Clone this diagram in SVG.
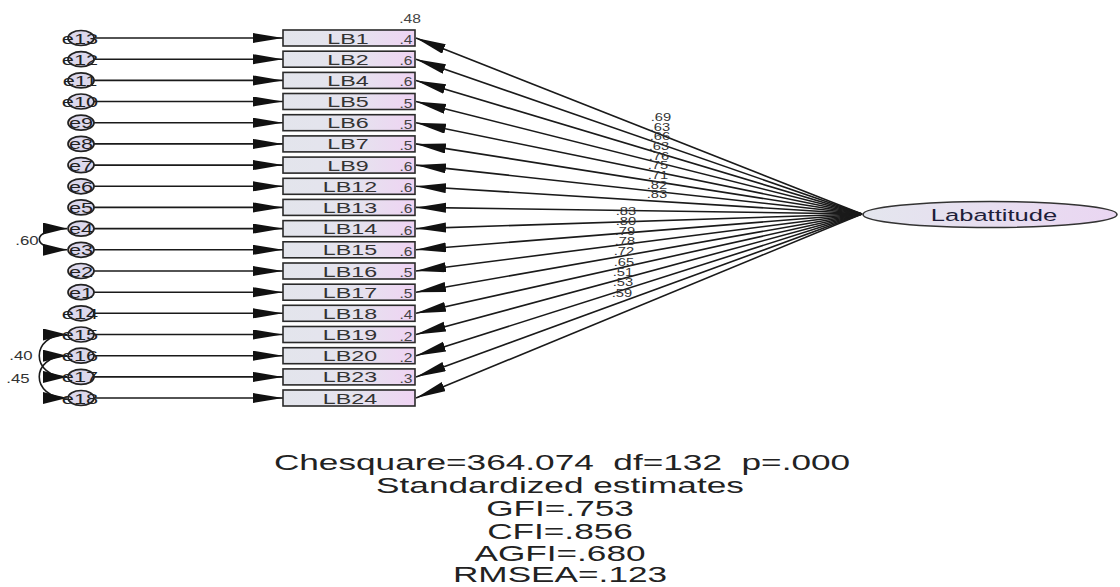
<svg xmlns="http://www.w3.org/2000/svg" width="1120" height="587" viewBox="0 0 1120 587">
  <style>
    text { font-family: "Liberation Sans", Arial, sans-serif; }
    .box { fill: url(#boxFill); stroke: #2a2a2a; stroke-width: 1.6; }
    .err { fill: #dcd8ec; stroke: #222; stroke-width: 1.7; }
    .lb { font-size: 15.5px; fill: #333; text-anchor: middle; }
    .el { font-size: 15px; fill: #222; text-anchor: middle; }
    .r2 { font-size: 12px; fill: #444; text-anchor: middle; }
    .pl { font-size: 10.5px; fill: #333; text-anchor: middle; }
    .cv { font-size: 12px; fill: #333; text-anchor: middle; }
    .fit { font-size: 22px; fill: #222; text-anchor: middle; white-space: pre; }
    .ln { stroke: #1a1a1a; stroke-width: 1.6; fill: none; }
  </style>
  <defs>
    <linearGradient id="boxFill" x1="0" y1="0" x2="1" y2="0">
      <stop offset="0" stop-color="#e3e5ec"/>
      <stop offset="0.55" stop-color="#e5e3ee"/>
      <stop offset="1" stop-color="#efd3f3"/>
    </linearGradient>
    <linearGradient id="latFill" x1="0" y1="0" x2="1" y2="0">
      <stop offset="0" stop-color="#e4e6ee"/>
      <stop offset="1" stop-color="#ead6f2"/>
    </linearGradient>
    <marker id="ah" markerUnits="userSpaceOnUse" markerWidth="32" markerHeight="12" refX="30" refY="5" orient="auto">
      <path d="M0,0 L30,5 L0,10 z" fill="#111"/>
    </marker>
    <marker id="ahc" markerUnits="userSpaceOnUse" markerWidth="26" markerHeight="14" refX="24" refY="6" orient="auto-start-reverse">
      <path d="M0,0 L24,6 L0,12 z" fill="#111"/>
    </marker>
  </defs>

  <!-- connectors: error paths, loadings, covariances -->
  <g id="connectors">
    <g id="error-paths">
      <line class="ln" x1="94" y1="38" x2="283" y2="38" marker-end="url(#ah)"/>
      <line class="ln" x1="94" y1="59.2" x2="283" y2="59.2" marker-end="url(#ah)"/>
      <line class="ln" x1="94" y1="80.4" x2="283" y2="80.4" marker-end="url(#ah)"/>
      <line class="ln" x1="94" y1="101.5" x2="283" y2="101.5" marker-end="url(#ah)"/>
      <line class="ln" x1="94" y1="122.7" x2="283" y2="122.7" marker-end="url(#ah)"/>
      <line class="ln" x1="94" y1="143.9" x2="283" y2="143.9" marker-end="url(#ah)"/>
      <line class="ln" x1="94" y1="165.1" x2="283" y2="165.1" marker-end="url(#ah)"/>
      <line class="ln" x1="94" y1="186.3" x2="283" y2="186.3" marker-end="url(#ah)"/>
      <line class="ln" x1="94" y1="207.4" x2="283" y2="207.4" marker-end="url(#ah)"/>
      <line class="ln" x1="94" y1="228.6" x2="283" y2="228.6" marker-end="url(#ah)"/>
      <line class="ln" x1="94" y1="249.8" x2="283" y2="249.8" marker-end="url(#ah)"/>
      <line class="ln" x1="94" y1="271" x2="283" y2="271" marker-end="url(#ah)"/>
      <line class="ln" x1="94" y1="292.2" x2="283" y2="292.2" marker-end="url(#ah)"/>
      <line class="ln" x1="94" y1="313.3" x2="283" y2="313.3" marker-end="url(#ah)"/>
      <line class="ln" x1="94" y1="334.5" x2="283" y2="334.5" marker-end="url(#ah)"/>
      <line class="ln" x1="94" y1="355.7" x2="283" y2="355.7" marker-end="url(#ah)"/>
      <line class="ln" x1="94" y1="376.9" x2="283" y2="376.9" marker-end="url(#ah)"/>
      <line class="ln" x1="94" y1="398" x2="283" y2="398" marker-end="url(#ah)"/>
    </g>
    <g id="loadings">
      <line class="ln" x1="862" y1="214" x2="416" y2="38" marker-end="url(#ah)"/>
      <line class="ln" x1="862" y1="214" x2="416" y2="59.2" marker-end="url(#ah)"/>
      <line class="ln" x1="862" y1="214" x2="416" y2="80.4" marker-end="url(#ah)"/>
      <line class="ln" x1="862" y1="214" x2="416" y2="101.5" marker-end="url(#ah)"/>
      <line class="ln" x1="862" y1="214" x2="416" y2="122.7" marker-end="url(#ah)"/>
      <line class="ln" x1="862" y1="214" x2="416" y2="143.9" marker-end="url(#ah)"/>
      <line class="ln" x1="862" y1="214" x2="416" y2="165.1" marker-end="url(#ah)"/>
      <line class="ln" x1="862" y1="214" x2="416" y2="186.3" marker-end="url(#ah)"/>
      <line class="ln" x1="862" y1="214" x2="416" y2="207.4" marker-end="url(#ah)"/>
      <line class="ln" x1="862" y1="214" x2="416" y2="228.6" marker-end="url(#ah)"/>
      <line class="ln" x1="862" y1="214" x2="416" y2="249.8" marker-end="url(#ah)"/>
      <line class="ln" x1="862" y1="214" x2="416" y2="271" marker-end="url(#ah)"/>
      <line class="ln" x1="862" y1="214" x2="416" y2="292.2" marker-end="url(#ah)"/>
      <line class="ln" x1="862" y1="214" x2="416" y2="313.3" marker-end="url(#ah)"/>
      <line class="ln" x1="862" y1="214" x2="416" y2="334.5" marker-end="url(#ah)"/>
      <line class="ln" x1="862" y1="214" x2="416" y2="355.7" marker-end="url(#ah)"/>
      <line class="ln" x1="862" y1="214" x2="416" y2="376.9" marker-end="url(#ah)"/>
      <line class="ln" x1="862" y1="214" x2="416" y2="398" marker-end="url(#ah)"/>
    </g>
    <g id="loading-labels">
      <text class="pl" transform="translate(661,121) scale(1.4,1)">.69</text>
      <text class="pl" transform="translate(660,131) scale(1.4,1)">.63</text>
      <text class="pl" transform="translate(660,140) scale(1.4,1)">.66</text>
      <text class="pl" transform="translate(659,150) scale(1.4,1)">.63</text>
      <text class="pl" transform="translate(659,160) scale(1.4,1)">.76</text>
      <text class="pl" transform="translate(658,169) scale(1.4,1)">.75</text>
      <text class="pl" transform="translate(658,179) scale(1.4,1)">.71</text>
      <text class="pl" transform="translate(657,189) scale(1.4,1)">.82</text>
      <text class="pl" transform="translate(657,198) scale(1.4,1)">.83</text>
      <text class="pl" transform="translate(626,215) scale(1.4,1)">.83</text>
      <text class="pl" transform="translate(626,225) scale(1.4,1)">.80</text>
      <text class="pl" transform="translate(625,235) scale(1.4,1)">.79</text>
      <text class="pl" transform="translate(625,245) scale(1.4,1)">.78</text>
      <text class="pl" transform="translate(624,255) scale(1.4,1)">.72</text>
      <text class="pl" transform="translate(624,266) scale(1.4,1)">.65</text>
      <text class="pl" transform="translate(623,276) scale(1.4,1)">.51</text>
      <text class="pl" transform="translate(623,286) scale(1.4,1)">.53</text>
      <text class="pl" transform="translate(622,297) scale(1.4,1)">.59</text>
    </g>
    <g id="covariances">
      <path class="ln" d="M67,228.6 C30,228.6 30,249.8 67,249.8" marker-start="url(#ahc)" marker-end="url(#ahc)"/>
      <path class="ln" d="M67,334.5 C30,334.5 30,376.9 67,376.9" marker-start="url(#ahc)" marker-end="url(#ahc)"/>
      <path class="ln" d="M67,355.7 C30,355.7 30,398 67,398" marker-start="url(#ahc)" marker-end="url(#ahc)"/>
      <text class="cv" transform="translate(27,245) scale(1.4,1)">.60</text>
      <text class="cv" transform="translate(21,360) scale(1.4,1)">.40</text>
      <text class="cv" transform="translate(18,383) scale(1.4,1)">.45</text>
    </g>
  </g>

  <!-- error terms -->
  <g id="e13"><ellipse class="err" cx="81" cy="38" rx="13" ry="7.5"/><text class="el" transform="translate(80,43.5) scale(1.45,1)">e13</text></g>
  <g id="e12"><ellipse class="err" cx="81" cy="59.2" rx="13" ry="7.5"/><text class="el" transform="translate(80,64.7) scale(1.45,1)">e12</text></g>
  <g id="e11"><ellipse class="err" cx="81" cy="80.4" rx="13" ry="7.5"/><text class="el" transform="translate(80,85.9) scale(1.45,1)">e11</text></g>
  <g id="e10"><ellipse class="err" cx="81" cy="101.5" rx="13" ry="7.5"/><text class="el" transform="translate(80,107) scale(1.45,1)">e10</text></g>
  <g id="e9"><ellipse class="err" cx="81" cy="122.7" rx="13" ry="7.5"/><text class="el" transform="translate(81,128.2) scale(1.45,1)">e9</text></g>
  <g id="e8"><ellipse class="err" cx="81" cy="143.9" rx="13" ry="7.5"/><text class="el" transform="translate(81,149.4) scale(1.45,1)">e8</text></g>
  <g id="e7"><ellipse class="err" cx="81" cy="165.1" rx="13" ry="7.5"/><text class="el" transform="translate(81,170.6) scale(1.45,1)">e7</text></g>
  <g id="e6"><ellipse class="err" cx="81" cy="186.3" rx="13" ry="7.5"/><text class="el" transform="translate(81,191.8) scale(1.45,1)">e6</text></g>
  <g id="e5"><ellipse class="err" cx="81" cy="207.4" rx="13" ry="7.5"/><text class="el" transform="translate(81,212.9) scale(1.45,1)">e5</text></g>
  <g id="e4"><ellipse class="err" cx="81" cy="228.6" rx="13" ry="7.5"/><text class="el" transform="translate(81,234.1) scale(1.45,1)">e4</text></g>
  <g id="e3"><ellipse class="err" cx="81" cy="249.8" rx="13" ry="7.5"/><text class="el" transform="translate(81,255.3) scale(1.45,1)">e3</text></g>
  <g id="e2"><ellipse class="err" cx="81" cy="271" rx="13" ry="7.5"/><text class="el" transform="translate(81,276.5) scale(1.45,1)">e2</text></g>
  <g id="e1"><ellipse class="err" cx="81" cy="292.2" rx="13" ry="7.5"/><text class="el" transform="translate(81,297.7) scale(1.45,1)">e1</text></g>
  <g id="e14"><ellipse class="err" cx="81" cy="313.3" rx="13" ry="7.5"/><text class="el" transform="translate(80,318.8) scale(1.45,1)">e14</text></g>
  <g id="e15"><ellipse class="err" cx="81" cy="334.5" rx="13" ry="7.5"/><text class="el" transform="translate(80,340) scale(1.45,1)">e15</text></g>
  <g id="e16"><ellipse class="err" cx="81" cy="355.7" rx="13" ry="7.5"/><text class="el" transform="translate(80,361.2) scale(1.45,1)">e16</text></g>
  <g id="e17"><ellipse class="err" cx="81" cy="376.9" rx="13" ry="7.5"/><text class="el" transform="translate(80,382.4) scale(1.45,1)">e17</text></g>
  <g id="e18"><ellipse class="err" cx="81" cy="398" rx="13" ry="7.5"/><text class="el" transform="translate(80,403.5) scale(1.45,1)">e18</text></g>

  <!-- observed indicators -->
  <g id="LB1"><rect class="box" x="283" y="30" width="132" height="16"/><text class="lb" transform="translate(348,43.5) scale(1.5,1)">LB1</text><text class="r2" transform="translate(406,44) scale(1.3,1)">.4</text></g>
  <g id="LB2"><rect class="box" x="283" y="51.2" width="132" height="16"/><text class="lb" transform="translate(348,64.7) scale(1.5,1)">LB2</text><text class="r2" transform="translate(406,65.2) scale(1.3,1)">.6</text></g>
  <g id="LB4"><rect class="box" x="283" y="72.4" width="132" height="16"/><text class="lb" transform="translate(348,85.9) scale(1.5,1)">LB4</text><text class="r2" transform="translate(406,86.4) scale(1.3,1)">.6</text></g>
  <g id="LB5"><rect class="box" x="283" y="93.5" width="132" height="16"/><text class="lb" transform="translate(348,107) scale(1.5,1)">LB5</text><text class="r2" transform="translate(406,107.5) scale(1.3,1)">.5</text></g>
  <g id="LB6"><rect class="box" x="283" y="114.7" width="132" height="16"/><text class="lb" transform="translate(348,128.2) scale(1.5,1)">LB6</text><text class="r2" transform="translate(406,128.7) scale(1.3,1)">.5</text></g>
  <g id="LB7"><rect class="box" x="283" y="135.9" width="132" height="16"/><text class="lb" transform="translate(348,149.4) scale(1.5,1)">LB7</text><text class="r2" transform="translate(406,149.9) scale(1.3,1)">.5</text></g>
  <g id="LB9"><rect class="box" x="283" y="157.1" width="132" height="16"/><text class="lb" transform="translate(348,170.6) scale(1.5,1)">LB9</text><text class="r2" transform="translate(406,171.1) scale(1.3,1)">.6</text></g>
  <g id="LB12"><rect class="box" x="283" y="178.3" width="132" height="16"/><text class="lb" transform="translate(350,191.8) scale(1.5,1)">LB12</text><text class="r2" transform="translate(406,192.3) scale(1.3,1)">.6</text></g>
  <g id="LB13"><rect class="box" x="283" y="199.4" width="132" height="16"/><text class="lb" transform="translate(350,212.9) scale(1.5,1)">LB13</text><text class="r2" transform="translate(406,213.4) scale(1.3,1)">.6</text></g>
  <g id="LB14"><rect class="box" x="283" y="220.6" width="132" height="16"/><text class="lb" transform="translate(350,234.1) scale(1.5,1)">LB14</text><text class="r2" transform="translate(406,234.6) scale(1.3,1)">.6</text></g>
  <g id="LB15"><rect class="box" x="283" y="241.8" width="132" height="16"/><text class="lb" transform="translate(350,255.3) scale(1.5,1)">LB15</text><text class="r2" transform="translate(406,255.8) scale(1.3,1)">.6</text></g>
  <g id="LB16"><rect class="box" x="283" y="263" width="132" height="16"/><text class="lb" transform="translate(350,276.5) scale(1.5,1)">LB16</text><text class="r2" transform="translate(406,277) scale(1.3,1)">.5</text></g>
  <g id="LB17"><rect class="box" x="283" y="284.2" width="132" height="16"/><text class="lb" transform="translate(350,297.7) scale(1.5,1)">LB17</text><text class="r2" transform="translate(406,298.2) scale(1.3,1)">.5</text></g>
  <g id="LB18"><rect class="box" x="283" y="305.3" width="132" height="16"/><text class="lb" transform="translate(350,318.8) scale(1.5,1)">LB18</text><text class="r2" transform="translate(406,319.3) scale(1.3,1)">.4</text></g>
  <g id="LB19"><rect class="box" x="283" y="326.5" width="132" height="16"/><text class="lb" transform="translate(350,340) scale(1.5,1)">LB19</text><text class="r2" transform="translate(406,340.5) scale(1.3,1)">.2</text></g>
  <g id="LB20"><rect class="box" x="283" y="347.7" width="132" height="16"/><text class="lb" transform="translate(350,361.2) scale(1.5,1)">LB20</text><text class="r2" transform="translate(406,361.7) scale(1.3,1)">.2</text></g>
  <g id="LB23"><rect class="box" x="283" y="368.9" width="132" height="16"/><text class="lb" transform="translate(350,382.4) scale(1.5,1)">LB23</text><text class="r2" transform="translate(406,382.9) scale(1.3,1)">.3</text></g>
  <g id="LB24"><rect class="box" x="283" y="390" width="132" height="16"/><text class="lb" transform="translate(350,403.5) scale(1.5,1)">LB24</text></g>
  <text class="r2" transform="translate(410,23) scale(1.3,1)">.48</text>

  <!-- latent factor -->
  <g id="Labattitude">
    <ellipse cx="990" cy="214.5" rx="127" ry="13" fill="url(#latFill)" stroke="#333" stroke-width="1.6"/>
    <text transform="translate(994,220.5) scale(1.55,1)" style="font-size:16.5px;fill:#1e1e3a;text-anchor:middle">Labattitude</text>
  </g>

  <!-- fit summary -->
  <g id="fit-summary">
    <text class="fit" xml:space="preserve" transform="translate(562,470) scale(1.6,1)">Chesquare=364.074  df=132  p=.000</text>
    <text class="fit" transform="translate(560,493) scale(1.6,1)">Standardized estimates</text>
    <text class="fit" transform="translate(560,516) scale(1.6,1)">GFI=.753</text>
    <text class="fit" transform="translate(560,539) scale(1.6,1)">CFI=.856</text>
    <text class="fit" transform="translate(560,561) scale(1.6,1)">AGFI=.680</text>
    <text class="fit" transform="translate(560,582) scale(1.6,1)">RMSEA=.123</text>
  </g>
</svg>
